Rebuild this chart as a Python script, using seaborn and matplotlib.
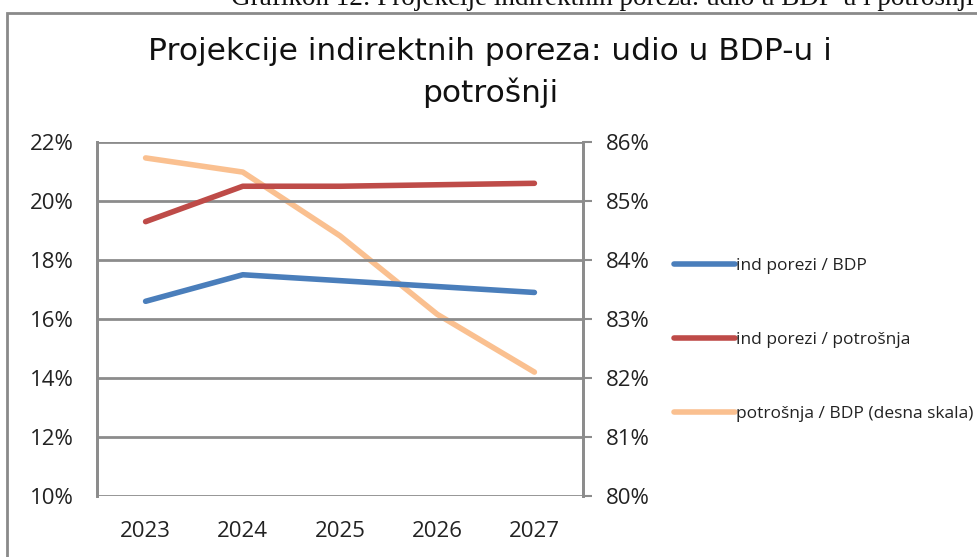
import matplotlib.pyplot as plt
import seaborn as sns
import pandas as pd
from matplotlib.lines import Line2D
from matplotlib.patches import Rectangle
from matplotlib.ticker import FuncFormatter

years = ['2023', '2024', '2025', '2026', '2027']
ind_bdp = [16.6, 17.5, 17.3, 17.1, 16.9]
ind_potrosnja = [19.3, 20.5, 20.5, 20.55, 20.6]
potrosnja_bdp = [85.73, 85.49, 84.41, 83.08, 82.10]

labels = ['ind porezi / BDP', 'ind porezi / potrošnja', 'potrošnja / BDP (desna skala)']
colors = ['#4a7ebb', '#be4b48', '#fac090']

df = pd.DataFrame({'godina': years, 'a': ind_bdp, 'b': ind_potrosnja, 'c': potrosnja_bdp})
df['x'] = range(len(years))

sns.set_style('white')
plt.rcParams['font.family'] = ['Open Sans', 'DejaVu Sans']

fig = plt.figure(figsize=(9.78, 5.57), dpi=100)
ax = fig.add_axes([97 / 978, 1 - 496 / 557, 486 / 978, 354 / 557])
ax2 = ax.twinx()

sns.lineplot(data=df, x='x', y='a', ax=ax, color=colors[0], linewidth=4, solid_capstyle='round')
sns.lineplot(data=df, x='x', y='b', ax=ax, color=colors[1], linewidth=4, solid_capstyle='round')
sns.lineplot(data=df, x='x', y='c', ax=ax2, color=colors[2], linewidth=4, solid_capstyle='round')

ax.set_xlim(-0.5, len(years) - 0.5)
ax.set_ylim(10, 22)
ax.set_yticks(range(10, 23, 2))
ax2.set_ylim(80, 86)
ax2.set_yticks(range(80, 87, 1))
ax.set_xticks(range(len(years)))
ax.set_xticklabels(years)
pct = FuncFormatter(lambda v, p: f'{v:.0f}%')
ax.yaxis.set_major_formatter(pct)
ax2.yaxis.set_major_formatter(pct)
ax.set_xlabel('')
ax.set_ylabel('')
ax2.set_ylabel('')

grid_col = '#8c8c8c'
ax.yaxis.grid(True, color=grid_col, linewidth=2)
ax.set_axisbelow(True)
for a in (ax, ax2):
    for s in ('top', 'bottom'):
        a.spines[s].set_visible(False)
    for s in ('left', 'right'):
        a.spines[s].set_color(grid_col)
        a.spines[s].set_linewidth(2)
ax.tick_params(axis='y', length=0, labelsize=16, pad=17, colors='#222222')
ax2.tick_params(axis='y', direction='out', length=6.5, width=1.5, color=grid_col,
                labelsize=16, pad=10, labelcolor='#222222')
ax.tick_params(axis='x', length=0, labelsize=16, pad=18, colors='#222222')
ax.set_zorder(ax2.get_zorder() + 1)
ax.patch.set_visible(False)

handles = [Line2D([0], [0], color=c, linewidth=4, solid_capstyle='round') for c in colors]
for h, lab, yp in zip(handles, labels, [266, 340, 414]):
    fig.legend([h], [lab], loc='center left', bbox_to_anchor=(674 / 978, 1 - yp / 557),
               frameon=False, fontsize=12.5, handlelength=3.5, handletextpad=0.1,
               borderpad=0, borderaxespad=0, labelcolor='#222222')

fig.text(490 / 978, 1 - 52 / 557, 'Projekcije indirektnih poreza: udio u BDP-u i',
         ha='center', va='center', fontsize=22.5, family=['DejaVu Sans'], color='#111111')
fig.text(490 / 978, 1 - 93 / 557, 'potrošnji',
         ha='center', va='center', fontsize=22.5, family=['DejaVu Sans'], color='#111111')

# caption cut off at the top edge, as in the source
fig.text(602 / 978, 1 - 5 / 557, 'Grafikon 12: Projekcije indirektnih poreza: udio u BDP-u i potrošnji',
         ha='center', va='baseline', fontsize=19.5, family=['Liberation Serif'], color='#111111')

fig.patches.append(Rectangle((7 / 978, -0.05), 1.1, 1 - 13 / 557 + 0.05,
                             transform=fig.transFigure, fill=False,
                             edgecolor='#8a8a8a', linewidth=2))

fig.savefig('out.png', dpi=100)
